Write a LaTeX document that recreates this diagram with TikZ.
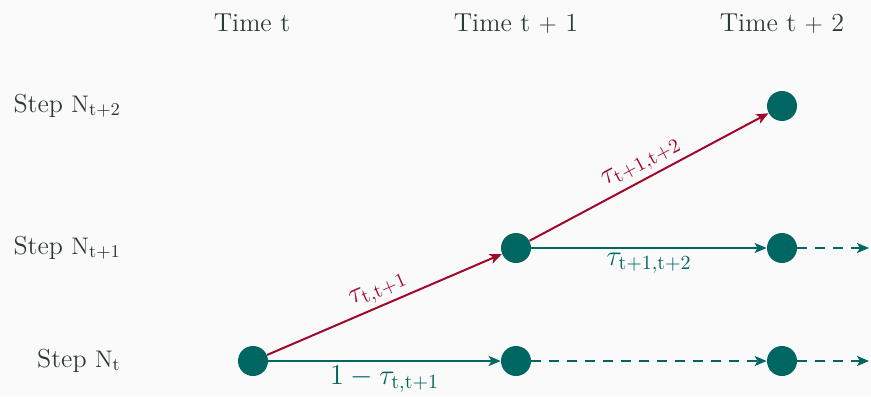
\documentclass[tikz,border=0pt]{standalone}
\usepackage{amsmath}
\usepackage{xcolor}
\usepackage{tikz}
\usetikzlibrary{arrows.meta,positioning,calc}

\definecolor{tealc}{HTML}{006662}
\definecolor{redc}{HTML}{A00A2A}
\definecolor{textc}{HTML}{2E3A3A}
\definecolor{bgc}{HTML}{FAFAFA}

\begin{document}
\begin{tikzpicture}[x=0.5pt, y=-0.5pt,
    every node/.style={font=\fontsize{13pt}{15pt}\selectfont, text=textc},
    state/.style={circle, fill=tealc, minimum size=15pt, inner sep=0pt},
    arr/.style={-{Stealth[length=6pt, width=5pt, inset=1.5pt]}, line width=1pt, tealc},
    rarr/.style={-{Stealth[length=6pt, width=5pt, inset=1.5pt]}, line width=1pt, redc},
    darr/.style={-{Stealth[length=6pt, width=5pt, inset=1.5pt]}, line width=1pt, tealc,
      dash pattern=on 5pt off 4pt},
    lbl/.style={font=\fontsize{14.5pt}{16pt}\selectfont, inner sep=2pt},
  ]
    \useasboundingbox (0,0) rectangle (871,396);
    \fill[bgc] (0,0) rectangle (871,396);

    % Column and row headers
    \node[anchor=base] (tt) at (252,31) {Time t};
    \node[anchor=base] (tt1) at (516,31) {Time t $+$ 1};
    \node[anchor=base] (tt2) at (782,31) {Time t $+$ 2};
    \node[anchor=base east] (n2) at (128,112) {Step $\mathrm{N}_{\mathrm{t+2}}$};
    \node[anchor=base east] (n1) at (128,254) {Step $\mathrm{N}_{\mathrm{t+1}}$};
    \node[anchor=base east] (n0) at (128,367) {Step $\mathrm{N}_{\mathrm{t}}$};

    % States
    \node[state] (a0) at (253,361) {};
    \node[state] (b0) at (516,361) {};
    \node[state] (b1) at (516,248) {};
    \node[state] (c0) at (782,361) {};
    \node[state] (c1) at (782,248) {};
    \node[state] (c2) at (782,106) {};
    \coordinate (e0) at (869,361);
    \coordinate (e1) at (869,248);

    % Arrows
    \draw[rarr] (a0) -- node[lbl, sloped, above, text=redc] {$\tau_{\mathrm{t,t+1}}$} (b1);
    \draw[rarr] (b1) -- node[lbl, sloped, above, text=redc] {$\tau_{\mathrm{t+1,t+2}}$} (c2);
    \draw[arr] (a0) -- node[lbl, below, text=tealc] {$1-\tau_{\mathrm{t,t+1}}$} (b0);
    \draw[arr] (b1) -- node[lbl, below, text=tealc] {$\tau_{\mathrm{t+1,t+2}}$} (c1);
    \draw[darr] (b0) -- (c0);
    \draw[darr] (c0) -- (e0);
    \draw[darr] (c1) -- (e1);
  \end{tikzpicture}
\end{document}
